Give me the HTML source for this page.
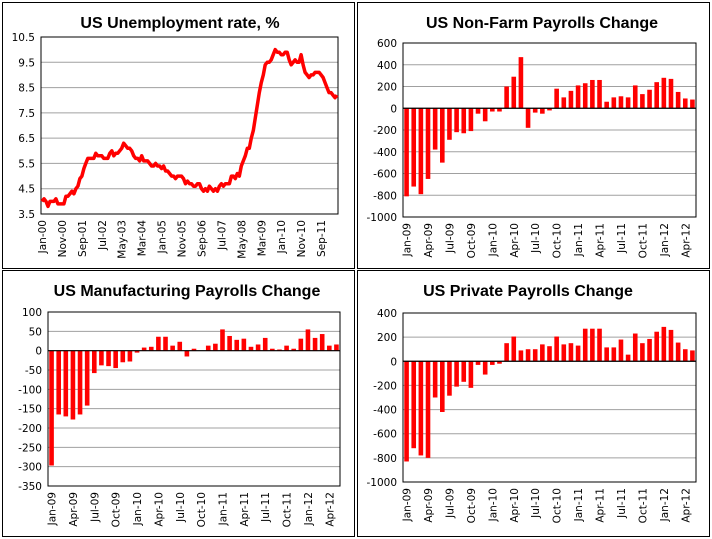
<!DOCTYPE html>
<html><head><meta charset="utf-8"><style>
body{margin:0;background:#fff;width:712px;height:539px;overflow:hidden}
svg{position:absolute;left:0;top:0}
.t{font-family:"Liberation Sans",sans-serif;font-weight:bold;font-size:16px}
.a{font-family:"DejaVu Sans","Liberation Sans",sans-serif;font-size:10.5px;fill:#000}
</style></head><body>
<svg id="c" width="712" height="539" xmlns="http://www.w3.org/2000/svg"></svg>
<script>
const unempRate=[4.0,4.1,4.0,3.8,4.0,4.0,4.0,4.1,3.9,3.9,3.9,3.9,
4.2,4.2,4.3,4.4,4.3,4.5,4.6,4.9,5.0,5.3,5.5,5.7,
5.7,5.7,5.7,5.9,5.8,5.8,5.8,5.7,5.7,5.7,5.9,6.0,
5.8,5.9,5.9,6.0,6.1,6.3,6.2,6.1,6.1,6.0,5.8,5.7,
5.7,5.6,5.8,5.6,5.6,5.6,5.5,5.4,5.4,5.5,5.4,5.4,
5.3,5.4,5.2,5.2,5.1,5.0,5.0,4.9,5.0,5.0,5.0,4.9,
4.7,4.8,4.7,4.7,4.6,4.6,4.7,4.7,4.5,4.4,4.5,4.4,
4.6,4.5,4.4,4.5,4.4,4.6,4.7,4.6,4.7,4.7,4.7,5.0,
5.0,4.9,5.1,5.0,5.4,5.6,5.8,6.1,6.1,6.5,6.8,7.3,
7.8,8.3,8.7,9.0,9.4,9.5,9.5,9.6,9.8,10.0,9.9,9.9,
9.8,9.8,9.9,9.9,9.6,9.4,9.5,9.6,9.5,9.5,9.8,9.4,
9.1,9.0,8.9,9.0,9.0,9.1,9.1,9.1,9.0,8.9,8.7,8.5,
8.3,8.3,8.2,8.1,8.2];
const unempLabels=["Jan-00","Nov-00","Sep-01","Jul-02","May-03","Mar-04","Jan-05","Nov-05","Sep-06","Jul-07","May-08","Mar-09","Jan-10","Nov-10","Sep-11"];
const unempTicks=[3.5,4.5,5.5,6.5,7.5,8.5,9.5,10.5];
const barLabels=["Jan-09","Apr-09","Jul-09","Oct-09","Jan-10","Apr-10","Jul-10","Oct-10","Jan-11","Apr-11","Jul-11","Oct-11","Jan-12","Apr-12"];
const nfpValues=[-810,-720,-790,-650,-380,-500,-290,-220,-230,-210,-50,-120,-30,-30,200,290,470,-180,-40,-50,-20,180,100,160,210,230,260,260,60,100,110,100,210,130,170,240,280,270,150,90,80];
const nfpTicks=[-1000,-800,-600,-400,-200,0,200,400,600];
const mfgValues=[-297,-165,-170,-178,-165,-142,-58,-38,-40,-45,-30,-28,-5,8,10,36,36,13,23,-15,5,0,13,18,55,38,28,31,10,16,33,5,3,13,5,31,55,33,43,13,16];
const mfgTicks=[-350,-300,-250,-200,-150,-100,-50,0,50,100];
const privValues=[-830,-720,-780,-800,-300,-420,-285,-210,-170,-220,-30,-110,-30,-20,150,205,90,100,100,140,125,205,140,150,130,270,270,270,115,115,180,55,230,150,185,245,285,260,155,100,90];
const privTicks=[-1000,-800,-600,-400,-200,0,200,400];

const NS="http://www.w3.org/2000/svg",svg=document.getElementById('c');
function el(tag,attrs,parent,text){const e=document.createElementNS(NS,tag);for(const k in attrs)e.setAttribute(k,attrs[k]);if(text!==undefined)e.textContent=text;(parent||svg).appendChild(e);return e;}

function panel(px,py,pw,ph,title,name,tx){
  const g=el('g',{});
  
  
  const r=el('rect',{x:px+0.5,y:py+0.5,width:pw,height:ph,fill:'#fff',stroke:'#000','stroke-width':1},g);
  
  
  const t=el('text',{x:tx,y:py+26,'text-anchor':'middle',class:'t'},g,title);
  
  
  return g;
}
function axes(g,x0,x1,y0,y1,ticks,yScale,fmt){
  ticks.forEach(v=>{const y=yScale(v);
    const l=el('line',{x1:x0,x2:x1,y1:y,y2:y,stroke:'#a0a0a0','stroke-width':1},g);
    
    
    const t=el('text',{x:x0-6,y:y+4,'text-anchor':'end',class:'a'},g,fmt(v));
    
    
  });
  const b=el('rect',{x:x0,y:y0,width:x1-x0,height:y1-y0,fill:'none',stroke:'#000','stroke-width':1},g);
  
  
}
function xlabel(g,x,y,txt){
  const t=el('text',{transform:`translate(${x+4},${y}) rotate(-90)`,'text-anchor':'end',class:'a'},g,txt);
  
  
}
function barChart(name,px,py,tx,title,vals,ticks,x0,x1,y0,y1){
  const g=panel(px,py,352,266,title,name,tx);
  const mn=ticks[0],mx=ticks[ticks.length-1];
  const ys=v=>y0+(mx-v)/(mx-mn)*(y1-y0);
  axes(g,x0,x1,y0,y1,ticks,ys,v=>String(v));
  const w=(x1-x0)/vals.length;
  vals.forEach((v,i)=>{const cx=x0+(i+0.5)*w,ya=ys(Math.max(v,0)),yb=ys(Math.min(v,0));
    const b=el('rect',{x:cx-2.3,y:ya,width:4.6,height:Math.max(yb-ya,0),fill:'#ff0000'},g);
    
    
  });
  const z=el('line',{x1:x0,x2:x1,y1:ys(0),y2:ys(0),stroke:'#000','stroke-width':1.2},g);
  
  
  barLabels.forEach((s,k)=>xlabel(g,x0+(k*3+0.5)*w,y1+6,s));
}
// Unemployment
(function(){
  const x0=41,x1=338,y0=37,y1=214;
  const g=panel(2,2,352,266,'US Unemployment rate, %','unemployment-chart',180);
  const ys=v=>y0+(10.5-v)/7*(y1-y0);
  axes(g,x0,x1,y0,y1,unempTicks,ys,v=>v.toFixed(1));
  const w=(x1-x0)/unempRate.length;
  const pts=unempRate.map((v,i)=>`${(x0+(i+0.5)*w).toFixed(1)},${ys(v).toFixed(1)}`).join(' ');
  const p=el('polyline',{points:pts,fill:'none',stroke:'#ff0000','stroke-width':3.5,'stroke-linejoin':'round'},g);
  
  
  unempLabels.forEach((s,k)=>xlabel(g,x0+(k*10+0.5)*w,y1+6,s));
})();
barChart('nonfarm-payrolls-chart',357,2,542,'US Non-Farm Payrolls Change',nfpValues,nfpTicks,403,696,43,217);
barChart('manufacturing-payrolls-chart',2,270,187,'US Manufacturing Payrolls Change',mfgValues,mfgTicks,48,340,312,486);
barChart('private-payrolls-chart',357,270,528,'US Private Payrolls Change',privValues,privTicks,403,696,313,482);
</script>
</body></html>
